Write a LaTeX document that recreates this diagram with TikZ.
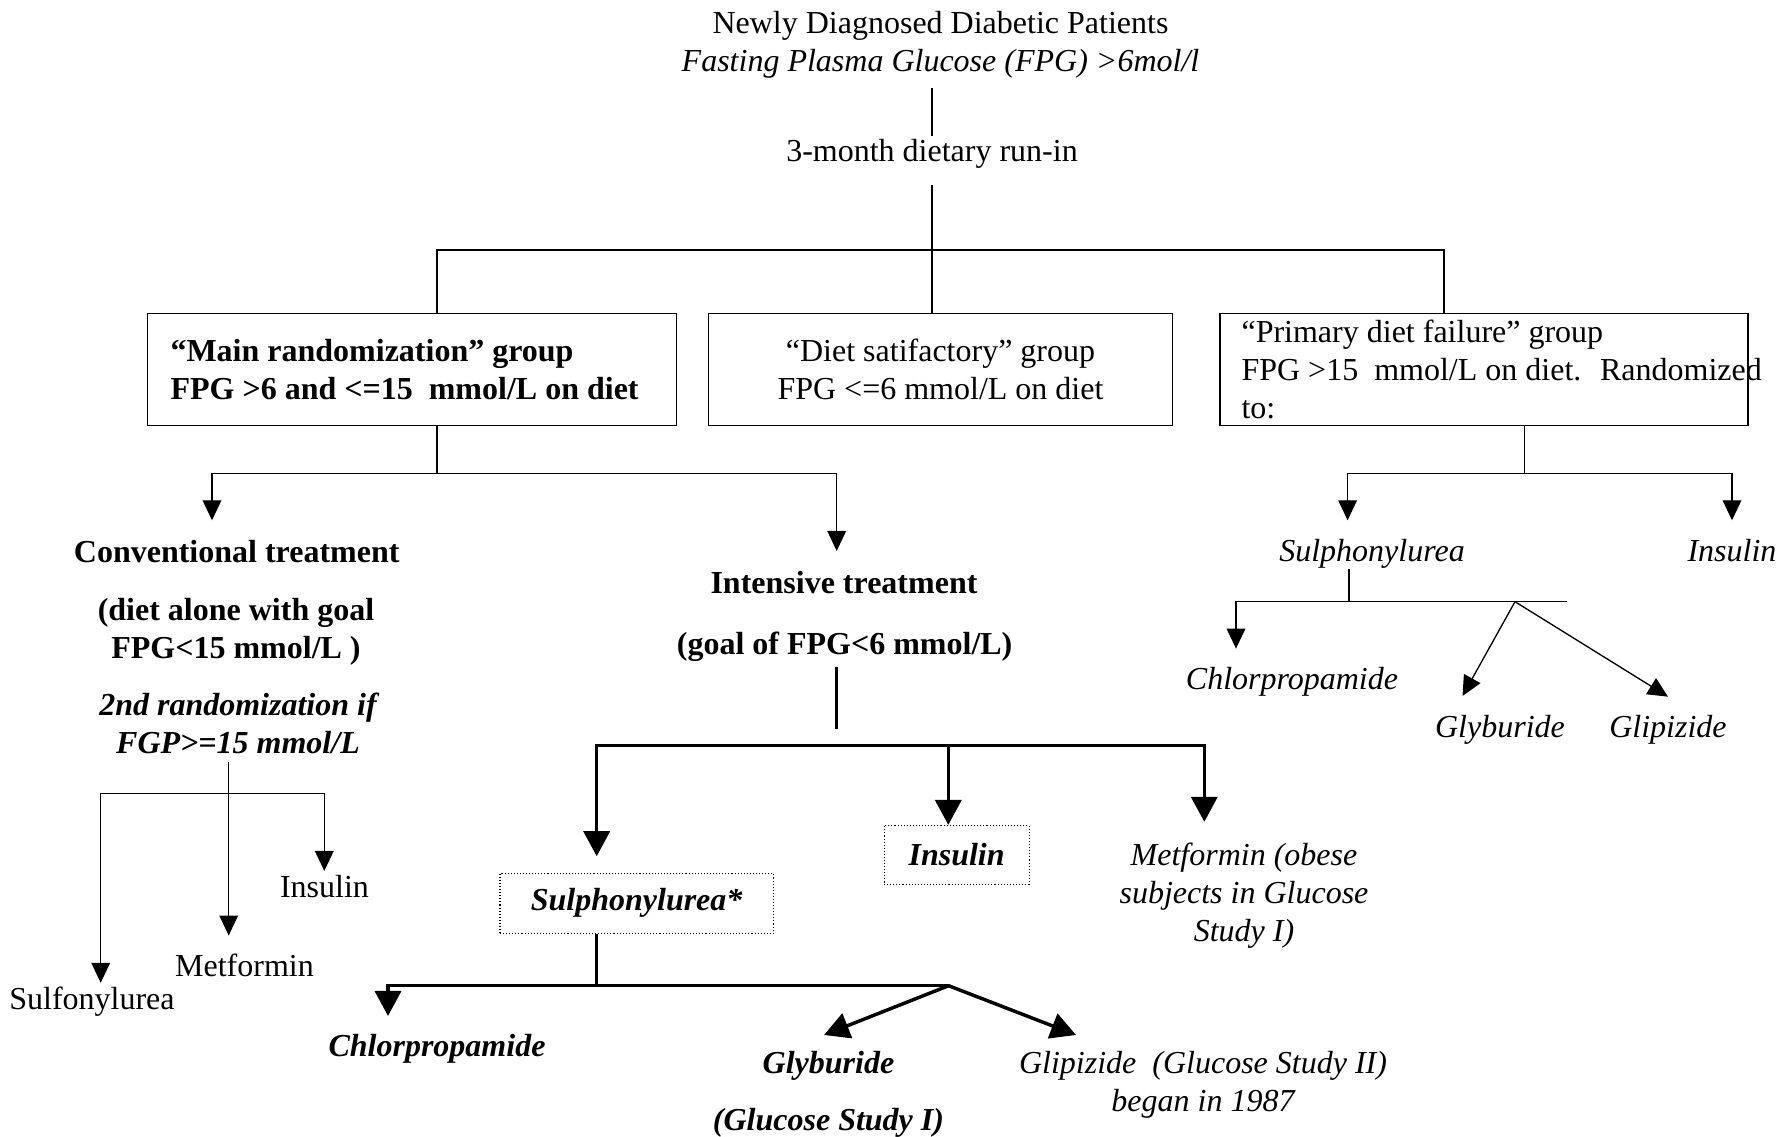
\documentclass[tikz,border=0pt]{standalone}
\usepackage{fontspec}
\setmainfont{Liberation Serif}
\usetikzlibrary{arrows.meta}
\newcommand\myfs{\fontsize{12}{14.25}\selectfont}
\begin{document}
\begin{tikzpicture}[x=0.375pt,y=-0.375pt,
  txt/.style={inner sep=0pt, font=\myfs},
  txtb/.style={inner sep=0pt, font=\myfs\bfseries},
  txti/.style={inner sep=0pt, font=\myfs\itshape},
  txtbi/.style={inner sep=0pt, font=\myfs\bfseries\itshape},
  ln/.style={line width=0.5pt},
  thk/.style={line width=1.3pt},
  arr/.style={ln, -{Triangle[length=7.5pt,width=7pt]}},
  tarr/.style={thk, -{Triangle[length=9.4pt,width=9.8pt]}},
  tarrb/.style={thk, {Triangle[length=9.4pt,width=9.8pt]}-{Triangle[length=9.4pt,width=9.8pt]}},
  box/.style={draw, line width=0.5pt, inner sep=0pt},
  dbox/.style={draw, line width=0.4pt, dash pattern=on 0.4pt off 0.75pt, inner sep=0pt},
]
\fill[white] (0,0) rectangle (1780,1137);
\useasboundingbox (0,0) rectangle (1780,1137);

% ---------- top (multi-line nodes are anchored at the baseline of their last line) ----------
\node[txt, anchor=base, align=center] (title) at (940.5,71.7)
  {Newly Diagnosed Diabetic Patients\\\textit{Fasting Plasma Glucose (FPG) >6mol/l}};
\node[txt, anchor=base] (runin) at (932,161.7) {3-month dietary run-in};

% ---------- boxes ----------
\node[box, minimum width=198.4pt, minimum height=42.15pt] (b1) at (412.1,369.5) {};
\node[box, minimum width=174.1pt, minimum height=42.15pt] (b2) at (940.55,369.5) {};
\node[box, minimum width=198pt, minimum height=42.15pt] (b3) at (1484,369.5) {};
\node[txtb, anchor=base west, align=left] (b1t) at (170,399.3)
  {“Main randomization” group\\FPG >6 and <=15~ mmol/L on diet};
\node[txt, anchor=base, align=center] (b2t) at (940.5,399.3)
  {“Diet satifactory” group\\FPG <=6 mmol/L on diet};
\node[txt, anchor=base west, align=left] (b3t) at (1241,418.3)
  {“Primary diet failure” group\\FPG >15~ mmol/L on diet.~ Randomized\\to:};

\draw[ln] (runin.north |- title.south) ++(0,9.3) -- ([yshift=1.2pt]runin.north);
\draw[ln] (runin.south) ++(0,16.3) -- (runin.south |- b2.north);
\coordinate (jL) at (437,250);
\coordinate (jR) at (1444,250);
\draw[ln] (jL |- b1.north) -- (jL) -- (jR) -- (jR |- b3.north);

% ---------- conventional / intensive split ----------
\node[txtb, anchor=base] (conv) at (236.7,562.5) {Conventional treatment};
\node[txtb, anchor=base, align=center] (convs) at (236,658.3) {(diet alone with goal\\FPG<15 mmol/L )};
\node[txtbi, anchor=base, align=center] (rand2) at (238,753.3) {2nd randomization if\\FGP>=15 mmol/L};
\node[txtb, anchor=base] (int) at (844,593.3) {Intensive treatment};
\node[txtb, anchor=base] (ints) at (844.6,655) {(goal of FPG<6 mmol/L)};

\coordinate (j2) at (437,473.3);
\coordinate (jc) at (212,473.3);
\coordinate (ji) at (836.7,473.3);
\draw[ln] (j2 |- b1.south) -- (j2);
\draw[arr, shorten >=7.3pt] (j2) -- (jc) -- (jc |- conv.north);
\draw[arr, shorten >=7.35pt] (j2) -- (ji) -- (ji |- int.north);

% ---------- conventional subtree ----------
\node[txt, anchor=base] (ins1) at (324.5,897.7) {Insulin};
\node[txt, anchor=base] (metf) at (244.5,976.7) {Metformin};
\node[txt, anchor=base] (sulf) at (92,1009.3) {Sulfonylurea};
\coordinate (j3) at (228.7,793.3);
\coordinate (jS) at (100.7,793.3);
\coordinate (jI) at (324.3,793.3);
\draw[arr, shorten >=6.8pt] (j3 |- rand2.south) ++(0,7.9) -- (j3 |- metf.north);
\draw[arr, shorten >=1.3pt] (j3) -- (jS) -- (jS |- sulf.north);
\draw[arr, shorten >=1.5pt] (j3) -- (jI) -- (jI |- ins1.north);

% ---------- intensive subtree ----------
\node[dbox, txtbi, minimum width=102.5pt, minimum height=22.5pt] (sul) at (636.65,903.3) {Sulphonylurea*};
\node[dbox, txtbi, minimum width=54.4pt, minimum height=22pt] (insb) at (956.6,854.8) {Insulin};
\node[txti, anchor=base, align=center] (met) at (1244,941.7) {Metformin (obese\\subjects in Glucose\\Study I)};

\coordinate (jv) at (836.7,729.3);
\draw[thk] (jv |- ints.south) ++(0,4.4) -- (jv);
\coordinate (jtL) at (596.7,745.5);
\coordinate (jtM) at (948.3,745.5);
\coordinate (jtR) at (1204.3,745.5);
\draw[tarrb, shorten <=6.2pt, shorten >=7.8pt] (jtL |- sul.north) -- (jtL) -- (jtR) -- (jtR |- met.north);
\draw[tarr] (jtM) -- (jtM |- insb.north);

% ---------- sulphonylurea subtree (intensive) ----------
\node[txtbi, anchor=base] (chl) at (437,1056.7) {Chlorpropamide};
\node[txtbi, anchor=base] (glyb) at (828.5,1073.5) {Glyburide};
\node[txtbi, anchor=base] (glybs) at (828.5,1130) {(Glucose Study I)};
\node[txti, anchor=base, align=center] (glip) at (1203,1111.7) {Glipizide~ (Glucose Study II)\\began in 1987};

\coordinate (jsv) at (596.7,985.7);
\coordinate (jbL) at (388,985.7);
\coordinate (jbR) at (948.6,985.7);
\coordinate (tg) at (824,1035);
\coordinate (tz) at (1076,1035);
\draw[thk] (jsv |- sul.south) -- (jsv);
\draw[tarr, shorten >=6.75pt] (jbR) -- (jbL) -- (jbL |- chl.north);
\draw[tarr] (jbR) -- (tg);
\draw[tarr] (jbR) -- (tz);

% ---------- primary diet failure subtree ----------
\node[txti, anchor=base] (rsul) at (1372,561.7) {Sulphonylurea};
\node[txti, anchor=base west] (rins) at (1687,561.7) {Insulin};
\coordinate (jr) at (1524.4,473.3);
\coordinate (jrL) at (1347.6,473.3);
\coordinate (jrR) at (1732,473.3);
\draw[ln] (jr |- b3.south) -- (jr);
\draw[arr, shorten >=7pt] (jr) -- (jrL) -- (jrL |- rsul.north);
\draw[arr, shorten >=7pt] (jr) -- (jrR) -- (jrR |- rins.north);

\node[txti, anchor=base] (rchl) at (1292,689.5) {Chlorpropamide};
\node[txti, anchor=base] (rgly) at (1500,737.5) {Glyburide};
\node[txti, anchor=base] (rglz) at (1668,737.5) {Glipizide};
\coordinate (rj) at (1349,601.7);
\coordinate (rL) at (1236,601.7);
\coordinate (rR) at (1567.3,601.7);
\coordinate (rB) at (1515,601.7);
\coordinate (rtg) at (1462.5,696);
\coordinate (rtz) at (1668,696.7);
\draw[ln] (rj |- rsul.south) -- (rj);
\draw[arr, shorten >=6.8pt] (rR) -- (rL) -- (rL |- rchl.north);
\draw[arr] (rB) -- (rtg);
\draw[arr] (rB) -- (rtz);
\end{tikzpicture}
\end{document}
